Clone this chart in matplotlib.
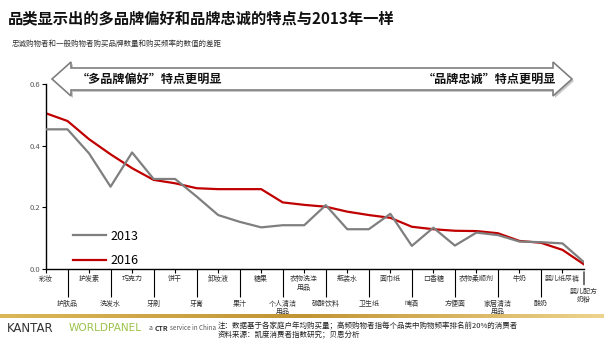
import matplotlib.pyplot as plt
import numpy as np
from matplotlib.patches import Polygon

plt.rcParams['font.family'] = ['Noto Sans CJK SC', 'DejaVu Sans']

# categories, sorted from multi-brand preference to brand loyalty
categories = ['彩妆', '护肤品', '护发素', '洗发水', '巧克力', '牙刷', '饼干', '牙膏',
              '卸妆液', '果汁', '糖果', '个人清洁\n用品', '衣物洗涤\n用品', '碳酸饮料',
              '瓶装水', '卫生纸', '面巾纸', '啤酒', '口香糖', '方便面', '衣物柔顺剂',
              '家居清洁\n用品', '牛奶', '酸奶', '婴儿纸尿裤', '婴儿配方\n奶粉']
values_2013 = [0.453, 0.453, 0.375, 0.267, 0.378, 0.292, 0.292, 0.235, 0.175, 0.153,
               0.135, 0.142, 0.142, 0.207, 0.129, 0.129, 0.179, 0.075, 0.134, 0.076,
               0.118, 0.110, 0.089, 0.087, 0.083, 0.022]
values_2016 = [0.505, 0.480, 0.421, 0.372, 0.327, 0.289, 0.278, 0.262, 0.259, 0.259,
               0.259, 0.216, 0.208, 0.202, 0.186, 0.175, 0.166, 0.137, 0.129, 0.124,
               0.123, 0.116, 0.091, 0.085, 0.062, 0.015]
y_ticks = [0.0, 0.2, 0.4, 0.6]

W, H = 604, 340
fig = plt.figure(figsize=(W / 100, H / 100), dpi=100)


def fx(px):
    return px / W


def fy(py):
    return 1 - py / H


# title and subtitle
fig.text(fx(8), fy(18), '品类显示出的多品牌偏好和品牌忠诚的特点与2013年一样',
         fontsize=11, fontweight='bold', va='center', ha='left', color='#111111')
fig.text(fx(12), fy(44), '忠诚购物者和一般购物者购买品牌数量和购买频率的数值的差距',
         fontsize=5.4, va='center', ha='left', color='#333333')

# double headed arrow banner
arrow_pts = [(52, 79), (71, 62), (71, 68), (553, 68), (553, 62), (572, 79),
             (553, 96), (553, 90), (71, 90), (71, 96)]
shadow = Polygon([(fx(x + 2), fy(y + 2)) for x, y in arrow_pts], closed=True,
                 transform=fig.transFigure, facecolor='#c8c8c8', edgecolor='none')
banner = Polygon([(fx(x), fy(y)) for x, y in arrow_pts], closed=True,
                 transform=fig.transFigure, facecolor='white', edgecolor='#7f7f7f', lw=1.2)
fig.patches.extend([shadow, banner])
fig.text(fx(77), fy(79), '“多品牌偏好”特点更明显', fontsize=8.7, fontweight='bold',
         va='center', ha='left', color='#111111')
fig.text(fx(556), fy(79), '“品牌忠诚”特点更明显', fontsize=8.7, fontweight='bold',
         va='center', ha='right', color='#111111')

# main chart
ax = fig.add_axes([fx(46), fy(269), fx(584) - fx(46), fy(84) - fy(269)])
x = np.arange(len(categories))
ax.plot(x, values_2013, color='#7f7f7f', lw=1.6, label='2013', zorder=3)
ax.plot(x, values_2016, color='#c00000', lw=1.6, label='2016', zorder=2)
ax.set_xlim(0, len(categories) - 1)
ax.set_ylim(0, 0.6)
ax.set_yticks(y_ticks, [f'{v:.1f}' for v in y_ticks])
ax.tick_params(axis='y', labelsize=5.5, labelcolor='#595959', length=3, width=0.8, pad=1)
for s in ['top', 'right']:
    ax.spines[s].set_visible(False)
for s in ['left', 'bottom']:
    ax.spines[s].set_linewidth(1.0)
    ax.spines[s].set_color('black')

# staggered category labels: upper row on major ticks, lower row on minor ticks
upper = x[0::2]
lower = x[1:-1:2]
ax.set_xticks(upper, [categories[i] for i in upper])
ax.set_xticks(lower, [categories[i] for i in lower], minor=True)
ax.tick_params(axis='x', which='major', length=3, width=0.8, pad=1.5,
               labelsize=5, labelcolor='#333333')
ax.tick_params(axis='x', which='minor', length=20.5, width=0.8, pad=1.5,
               labelsize=5, labelcolor='#333333')
for lab in ax.get_xticklabels(minor=False) + ax.get_xticklabels(minor=True):
    lab.set_linespacing(1.1)

# last category sits on the right edge with a shorter leader
last = len(categories) - 1
ax.annotate('', xy=(last, 0), xycoords=('data', 'axes fraction'),
            xytext=(last, -0.1), textcoords=('data', 'axes fraction'),
            arrowprops=dict(arrowstyle='-', lw=0.8, color='black'))
ax.text(last, -0.1, categories[last], transform=ax.get_xaxis_transform(),
        fontsize=5, color='#333333', ha='center', va='top', linespacing=1.1)

ax.legend(loc='lower left', bbox_to_anchor=(0.03, -0.05), frameon=False,
          fontsize=9, handlelength=2.6, handletextpad=0.4, labelspacing=0.9)

# footer band
grad = fig.add_axes([0, fy(318), 1, fy(314) - fy(318)])
band = np.linspace(0, 1, 256)
gold = np.array([[0.86, 0.72, 0.35], [0.76, 0.58, 0.20], [0.93, 0.83, 0.55]])
cols = np.array([np.interp(band, [0, 0.5, 1], gold[:, c]) for c in range(3)]).T
grad.imshow(cols[np.newaxis, :, :], aspect='auto', extent=[0, 1, 0, 1])
grad.axis('off')

# logo and notes
fig.text(fx(7), fy(328), 'KANTAR', fontsize=8.5, color='#333333', va='center',
         ha='left', family=['DejaVu Sans'])
fig.text(fx(69), fy(328), 'WORLDPANEL', fontsize=7.6, color='#9cc24a', va='center',
         ha='left', family=['DejaVu Sans'])
fig.text(fx(149), fy(328.5), 'a', fontsize=5, color='#555555', va='center', ha='left')
fig.text(fx(155), fy(328.5), 'CTR', fontsize=5, color='#333333', fontweight='bold',
         va='center', ha='left')
fig.text(fx(170), fy(328.5), 'service in China', fontsize=4.5, color='#555555',
         va='center', ha='left')
fig.text(fx(218), fy(326), '注：数据基于各家庭户年均购买量；高频购物者指每个品类中购物频率排名前20%的消费者',
         fontsize=5.4, color='#222222', va='center', ha='left')
fig.text(fx(218), fy(335), '资料来源：凯度消费者指数研究；贝恩分析',
         fontsize=5.4, color='#222222', va='center', ha='left')

fig.savefig('out.png', dpi=100)
